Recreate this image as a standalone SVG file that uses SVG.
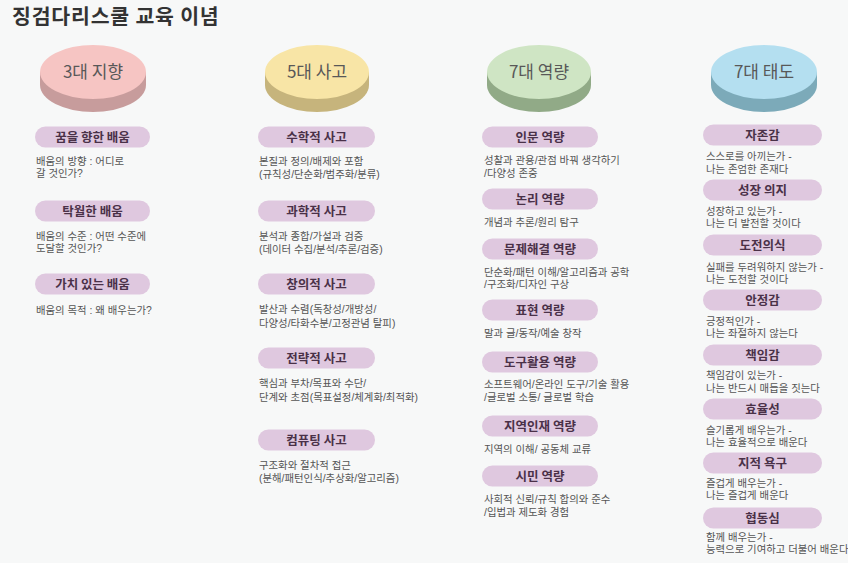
<svg xmlns="http://www.w3.org/2000/svg" width="848" height="563" viewBox="0 0 848 563">
<style>
text{font-family:"Noto Sans CJK KR","Noto Sans",sans-serif}
.title{font-size:20.5px;font-weight:700;fill:#333;letter-spacing:0.8px}
.disc{font-size:17px;fill:#585858;text-anchor:middle}
.pill{fill:#dfc8df}
.pt{font-size:12.5px;font-weight:700;fill:#4a3148;text-anchor:middle}
.d{font-family:"Liberation Sans","Noto Sans CJK KR",sans-serif;font-size:10.4px;fill:#555}
</style>
<rect width="848" height="563" fill="#f7f8f8"/>
<text class="title" x="12" y="23.5">징검다리스쿨 교육 이념</text>

<g id="disc-3">
<path d="M40,72 L40,85 A53,27 0 0 0 146,85 L146,72 Z" fill="#c79c9c"/>
<ellipse cx="93" cy="72" rx="53" ry="27" fill="#f6c5c3"/>
<text class="disc" x="93" y="78">3대 지향</text>
</g>
<g id="disc-5">
<path d="M265,72 L265,85 A52,27 0 0 0 369,85 L369,72 Z" fill="#c6b47c"/>
<ellipse cx="317" cy="72" rx="52" ry="27" fill="#f8e5a6"/>
<text class="disc" x="317" y="78">5대 사고</text>
</g>
<g id="disc-7a">
<path d="M487,72 L487,85 A52,27 0 0 0 591,85 L591,72 Z" fill="#91aa87"/>
<ellipse cx="539" cy="72" rx="52" ry="27" fill="#cfe5c4"/>
<text class="disc" x="539" y="78">7대 역량</text>
</g>
<g id="disc-7b">
<path d="M711,72 L711,85 A53,27 0 0 0 817,85 L817,72 Z" fill="#7caab9"/>
<ellipse cx="764" cy="72" rx="53" ry="27" fill="#b4dff0"/>
<text class="disc" x="764" y="78">7대 태도</text>
</g>

<!-- Column 1 -->
<g id="c1-1"><rect class="pill" x="35" y="126.5" width="115" height="21" rx="10.5"/><text class="pt" x="92.5" y="141.5">꿈을 향한 배움</text>
<text class="d" x="36" y="165">배움의 방향 : 어디로</text><text class="d" x="36" y="177">갈 것인가?</text></g>
<g id="c1-2"><rect class="pill" x="35" y="200.5" width="115" height="21" rx="10.5"/><text class="pt" x="92.5" y="215.5">탁월한 배움</text>
<text class="d" x="36" y="240">배움의 수준 : 어떤 수준에</text><text class="d" x="36" y="252">도달할 것인가?</text></g>
<g id="c1-3"><rect class="pill" x="35" y="273.5" width="115" height="21" rx="10.5"/><text class="pt" x="92.5" y="288.5">가치 있는 배움</text>
<text class="d" x="36" y="314">배움의 목적 : 왜 배우는가?</text></g>

<!-- Column 2 -->
<g id="c2-1"><rect class="pill" x="258" y="126.5" width="117" height="21" rx="10.5"/><text class="pt" x="316.5" y="141.5">수학적 사고</text>
<text class="d" x="259" y="165">본질과 정의/배제와 포함</text><text class="d" x="259" y="178">(규칙성/단순화/범주화/분류)</text></g>
<g id="c2-2"><rect class="pill" x="258" y="200.5" width="117" height="21" rx="10.5"/><text class="pt" x="316.5" y="215.5">과학적 사고</text>
<text class="d" x="259" y="240">분석과 종합/가설과 검증</text><text class="d" x="259" y="253">(데이터 수집/분석/추론/검증)</text></g>
<g id="c2-3"><rect class="pill" x="258" y="273.5" width="117" height="21" rx="10.5"/><text class="pt" x="316.5" y="288.5">창의적 사고</text>
<text class="d" x="259" y="313">발산과 수렴(독창성/개방성/</text><text class="d" x="259" y="327">다양성/타화수분/고정관념 탈피)</text></g>
<g id="c2-4"><rect class="pill" x="258" y="347.5" width="117" height="21" rx="10.5"/><text class="pt" x="316.5" y="362.5">전략적 사고</text>
<text class="d" x="259" y="387">핵심과 부차/목표와 수단/</text><text class="d" x="259" y="401">단계와 초점(목표설정/체계화/최적화)</text></g>
<g id="c2-5"><rect class="pill" x="258" y="429.5" width="117" height="21" rx="10.5"/><text class="pt" x="316.5" y="444.5">컴퓨팅 사고</text>
<text class="d" x="259" y="469">구조화와 절차적 접근</text><text class="d" x="259" y="482">(분해/패턴인식/추상화/알고리즘)</text></g>

<!-- Column 3 -->
<g id="c3-1"><rect class="pill" x="482" y="126.5" width="116" height="21" rx="10.5"/><text class="pt" x="540" y="141.5">인문 역량</text>
<text class="d" x="484" y="164">성찰과 관용/관점 바꿔 생각하기</text><text class="d" x="484" y="177">/다양성 존중</text></g>
<g id="c3-2"><rect class="pill" x="482" y="188.5" width="116" height="21" rx="10.5"/><text class="pt" x="540" y="203.5">논리 역량</text>
<text class="d" x="484" y="226">개념과 추론/원리 탐구</text></g>
<g id="c3-3"><rect class="pill" x="482" y="238.5" width="116" height="21" rx="10.5"/><text class="pt" x="540" y="253.5">문제해결 역량</text>
<text class="d" x="484" y="276">단순화/패턴 이해/알고리즘과 공학</text><text class="d" x="484" y="288">/구조화/디자인 구상</text></g>
<g id="c3-4"><rect class="pill" x="482" y="299.5" width="116" height="21" rx="10.5"/><text class="pt" x="540" y="314.5">표현 역량</text>
<text class="d" x="484" y="337">말과 글/동작/예술 창작</text></g>
<g id="c3-5"><rect class="pill" x="482" y="351.5" width="116" height="21" rx="10.5"/><text class="pt" x="540" y="366.5">도구활용 역량</text>
<text class="d" x="484" y="388">소프트웨어/온라인 도구/기술 활용</text><text class="d" x="484" y="401">/글로벌 소통/ 글로벌 학습</text></g>
<g id="c3-6"><rect class="pill" x="482" y="415.5" width="116" height="21" rx="10.5"/><text class="pt" x="540" y="430.5">지역인재 역량</text>
<text class="d" x="484" y="453">지역의 이해/ 공동체 교류</text></g>
<g id="c3-7"><rect class="pill" x="482" y="465.5" width="116" height="21" rx="10.5"/><text class="pt" x="540" y="480.5">시민 역량</text>
<text class="d" x="484" y="503">사회적 신뢰/규칙 합의와 준수</text><text class="d" x="484" y="516">/입법과 제도화 경험</text></g>

<!-- Column 4 -->
<g id="c4-1"><rect class="pill" x="703" y="124.5" width="119" height="21" rx="10.5"/><text class="pt" x="762.5" y="139.5">자존감</text>
<text class="d" x="706" y="160">스스로를 아끼는가 -</text><text class="d" x="706" y="173">나는 존엄한 존재다</text></g>
<g id="c4-2"><rect class="pill" x="703" y="179.5" width="119" height="21" rx="10.5"/><text class="pt" x="762.5" y="194.5">성장 의지</text>
<text class="d" x="706" y="215">성장하고 있는가 -</text><text class="d" x="706" y="227">나는 더 발전할 것이다</text></g>
<g id="c4-3"><rect class="pill" x="703" y="234.5" width="119" height="21" rx="10.5"/><text class="pt" x="762.5" y="249.5">도전의식</text>
<text class="d" x="706" y="271">실패를 두려워하지 않는가 -</text><text class="d" x="706" y="283">나는 도전할 것이다</text></g>
<g id="c4-4"><rect class="pill" x="703" y="289.5" width="119" height="21" rx="10.5"/><text class="pt" x="762.5" y="304.5">안정감</text>
<text class="d" x="706" y="325">긍정적인가 -</text><text class="d" x="706" y="337">나는 좌절하지 않는다</text></g>
<g id="c4-5"><rect class="pill" x="703" y="344.5" width="119" height="21" rx="10.5"/><text class="pt" x="762.5" y="359.5">책임감</text>
<text class="d" x="706" y="379">책임감이 있는가 -</text><text class="d" x="706" y="392">나는 반드시 매듭을 짓는다</text></g>
<g id="c4-6"><rect class="pill" x="703" y="398.5" width="119" height="21" rx="10.5"/><text class="pt" x="762.5" y="413.5">효율성</text>
<text class="d" x="706" y="433.5">슬기롭게 배우는가 -</text><text class="d" x="706" y="445.5">나는 효율적으로 배운다</text></g>
<g id="c4-7"><rect class="pill" x="703" y="452.5" width="119" height="21" rx="10.5"/><text class="pt" x="762.5" y="467.5">지적 욕구</text>
<text class="d" x="706" y="487">즐겁게 배우는가 -</text><text class="d" x="706" y="499">나는 즐겁게 배운다</text></g>
<g id="c4-8"><rect class="pill" x="703" y="507.5" width="119" height="21" rx="10.5"/><text class="pt" x="762.5" y="522.5">협동심</text>
<text class="d" x="706" y="541">함께 배우는가 -</text><text class="d" x="706" y="553">능력으로 기여하고 더불어 배운다</text></g>
</svg>
